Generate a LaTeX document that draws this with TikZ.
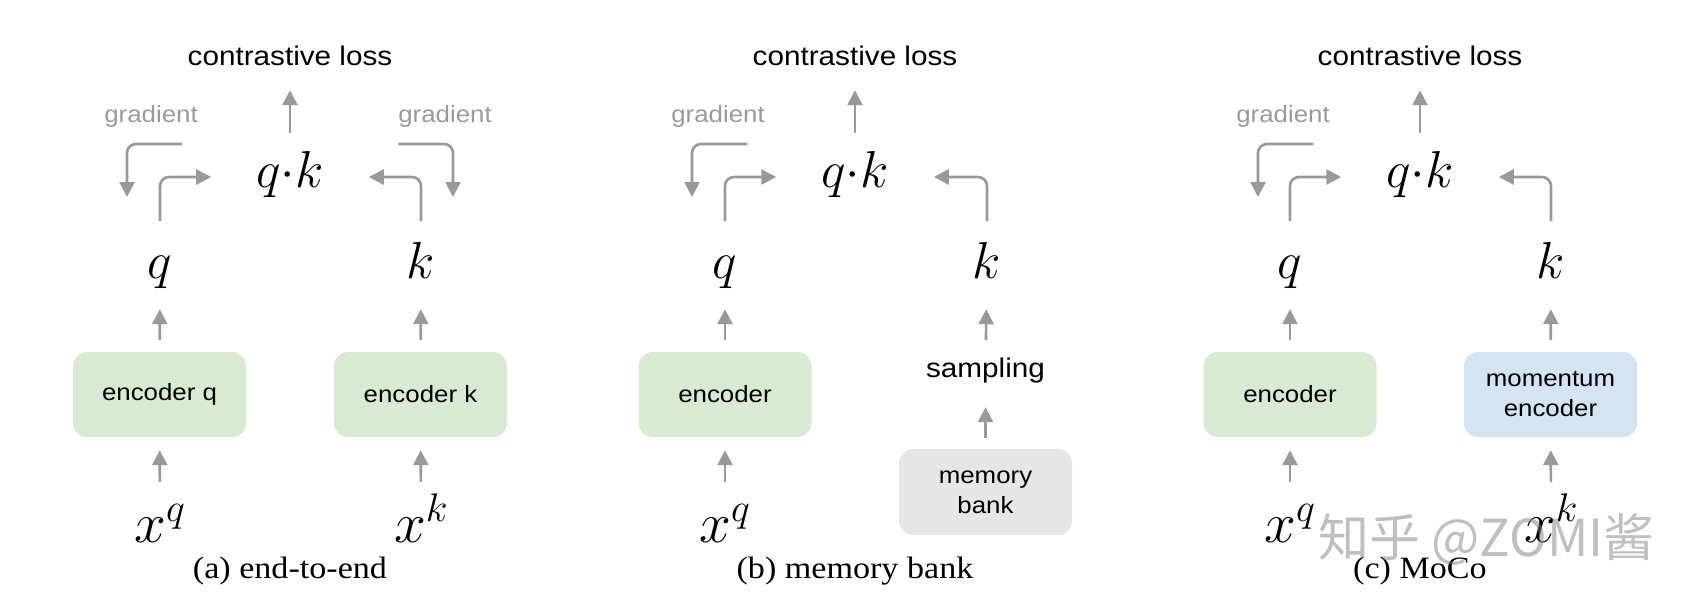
\RequirePackage{fix-cm}
\documentclass[tikz,border=0pt]{standalone}
\usepackage{fontspec}
\newfontfamily\sansw[FakeStretch=1.1]{Liberation Sans}
\newfontfamily\serifw[FakeStretch=1.1]{Liberation Serif}
\newfontfamily\cjk{Noto Sans CJK SC}
\usetikzlibrary{arrows.meta}
\definecolor{arrgray}{HTML}{999999}
\definecolor{boxgreen}{HTML}{D9EAD3}
\definecolor{boxblue}{HTML}{D3E4F2}
\definecolor{boxgray}{HTML}{E6E6E6}
\tikzset{
  arr/.style={draw=arrgray, line width=2.6pt, -{Triangle[length=15pt,width=15pt]}},
  elbow/.style={arr, rounded corners=9pt},
  losstext/.style={font=\sansw\fontsize{27}{32}\selectfont, inner sep=0pt, text height=20pt, text depth=6pt, anchor=base},
  gradtext/.style={font=\sansw\fontsize{23.5}{28}\selectfont, text=arrgray, inner sep=0pt, anchor=base},
  mathv/.style={font=\fontsize{52}{60}\selectfont, inner sep=0pt, text height=33pt, text depth=9pt, anchor=base},
  xv/.style={mathv, font=\fontsize{57}{64}\selectfont},
  qkv/.style={mathv, text height=30pt, text depth=10pt},
  encbox/.style={minimum width=173pt, minimum height=85pt, rounded corners=14pt, inner sep=0pt, align=center, font=\sansw\fontsize{23.5}{30}\selectfont},
  greenbox/.style={encbox, fill=boxgreen},
  bluebox/.style={encbox, fill=boxblue},
  graybox/.style={encbox, fill=boxgray, minimum height=86pt},
  captext/.style={font=\serifw\fontsize{31}{36}\selectfont, inner sep=0pt, anchor=base},
  samptext/.style={font=\sansw\fontsize{27}{32}\selectfont, inner sep=0pt, text height=20pt, text depth=6pt, anchor=base},
  toloss/.style={arr, shorten <=24pt, shorten >=19pt},
  toq/.style={arr, shorten <=12pt, shorten >=22pt},
  toenc/.style={arr, shorten <=27pt, shorten >=13pt},
  fwd/.style={elbow, shorten <=24pt, shorten >=45pt},
}
\begin{document}
\begin{tikzpicture}[x=1pt,y=-1pt]
\useasboundingbox (0,0) rectangle (1700,606);
% ---------------- panel (a)
\node[losstext] (aloss) at (290,65) {contrastive loss};
\node[qkv] (aqk) at (290,187) {$q{\cdot}k$};
\node[gradtext] (agl) at (151,122) {gradient};
\node[gradtext] (agr) at (445,122) {gradient};
\node[mathv] (aq) at (160,278) {$q$};
\node[mathv] (ak) at (421,278) {$k$};
\node[greenbox] (aencq) at (159.5,394.5) {encoder q};
\node[greenbox] (aenck) at (420.5,394.5) {encoder k};
\node[xv] (axq) at (160,542) {$x^q$};
\node[xv] (axk) at (421,542) {$x^k$};
\node[captext] (acap) at (290,578) {(a) end-to-end};
\coordinate (ags1) at (182,144);
\coordinate (age1) at (127,197);
\coordinate (ags2) at (398,144);
\coordinate (age2) at (453,197);
\draw[toloss] (aqk) -- (aloss);
\draw[toq] (aencq) -- (aq);
\draw[toq] (aenck) -- (ak);
\draw[toenc] (axq) -- (aencq);
\draw[toenc] (axk) -- (aenck);
\draw[fwd] (aq.north) |- (aqk.west);
\draw[fwd] (ak.north) |- (aqk.east);
\draw[elbow] (ags1) -| (age1);
\draw[elbow] (ags2) -| (age2);
% ---------------- panel (b)
\node[losstext] (bloss) at (855,65) {contrastive loss};
\node[qkv] (bqk) at (855,187) {$q{\cdot}k$};
\node[gradtext] (bgl) at (718,122) {gradient};
\node[mathv] (bq) at (725,278) {$q$};
\node[mathv] (bk) at (987,278) {$k$};
\node[greenbox] (benc) at (725,394.5) {encoder};
\node[samptext] (bsamp) at (985.5,377) {sampling};
\node[graybox] (bmem) at (985.5,492) {memory\\bank};
\node[xv] (bxq) at (725,542) {$x^q$};
\node[captext] (bcap) at (855,578) {(b) memory bank};
\coordinate (bgs1) at (747,144);
\coordinate (bge1) at (692,197);
\draw[toloss] (bqk) -- (bloss);
\draw[toq] (benc) -- (bq);
\draw[toenc] (bxq) -- (benc);
\draw[arr, shorten <=11pt, shorten >=24pt] (bmem) -- (bsamp);
\draw[arr, shorten <=17pt, shorten >=22pt] (bsamp) -- (bk);
\draw[fwd] (bq.north) |- (bqk.west);
\draw[fwd] (bk.north) |- (bqk.east);
\draw[elbow] (bgs1) -| (bge1);
% ---------------- panel (c)
\node[losstext] (closs) at (1420,65) {contrastive loss};
\node[qkv] (cqk) at (1420,187) {$q{\cdot}k$};
\node[gradtext] (cgl) at (1283,122) {gradient};
\node[mathv] (cq) at (1290,278) {$q$};
\node[mathv] (ck) at (1551,278) {$k$};
\node[greenbox] (cenc) at (1290,394.5) {encoder};
\node[bluebox] (cmom) at (1550.5,394.5) {momentum\\encoder};
\node[xv] (cxq) at (1290,542) {$x^q$};
\node[xv] (cxk) at (1551,542) {$x^k$};
\node[captext] (ccap) at (1420,578) {(c) MoCo};
\coordinate (cgs1) at (1313,144);
\coordinate (cge1) at (1258,197);
\draw[toloss] (cqk) -- (closs);
\draw[toq] (cenc) -- (cq);
\draw[toq] (cmom) -- (ck);
\draw[toenc] (cxq) -- (cenc);
\draw[toenc] (cxk) -- (cmom);
\draw[fwd] (cq.north) |- (cqk.west);
\draw[fwd] (ck.north) |- (cqk.east);
\draw[elbow] (cgs1) -| (cge1);
% watermark
\node[font=\cjk\fontsize{51}{58}\selectfont, text=gray, opacity=0.5, anchor=west, inner sep=0pt] (wm) at (1318,539) {知乎 @ZOMI酱};
\end{tikzpicture}
\end{document}
